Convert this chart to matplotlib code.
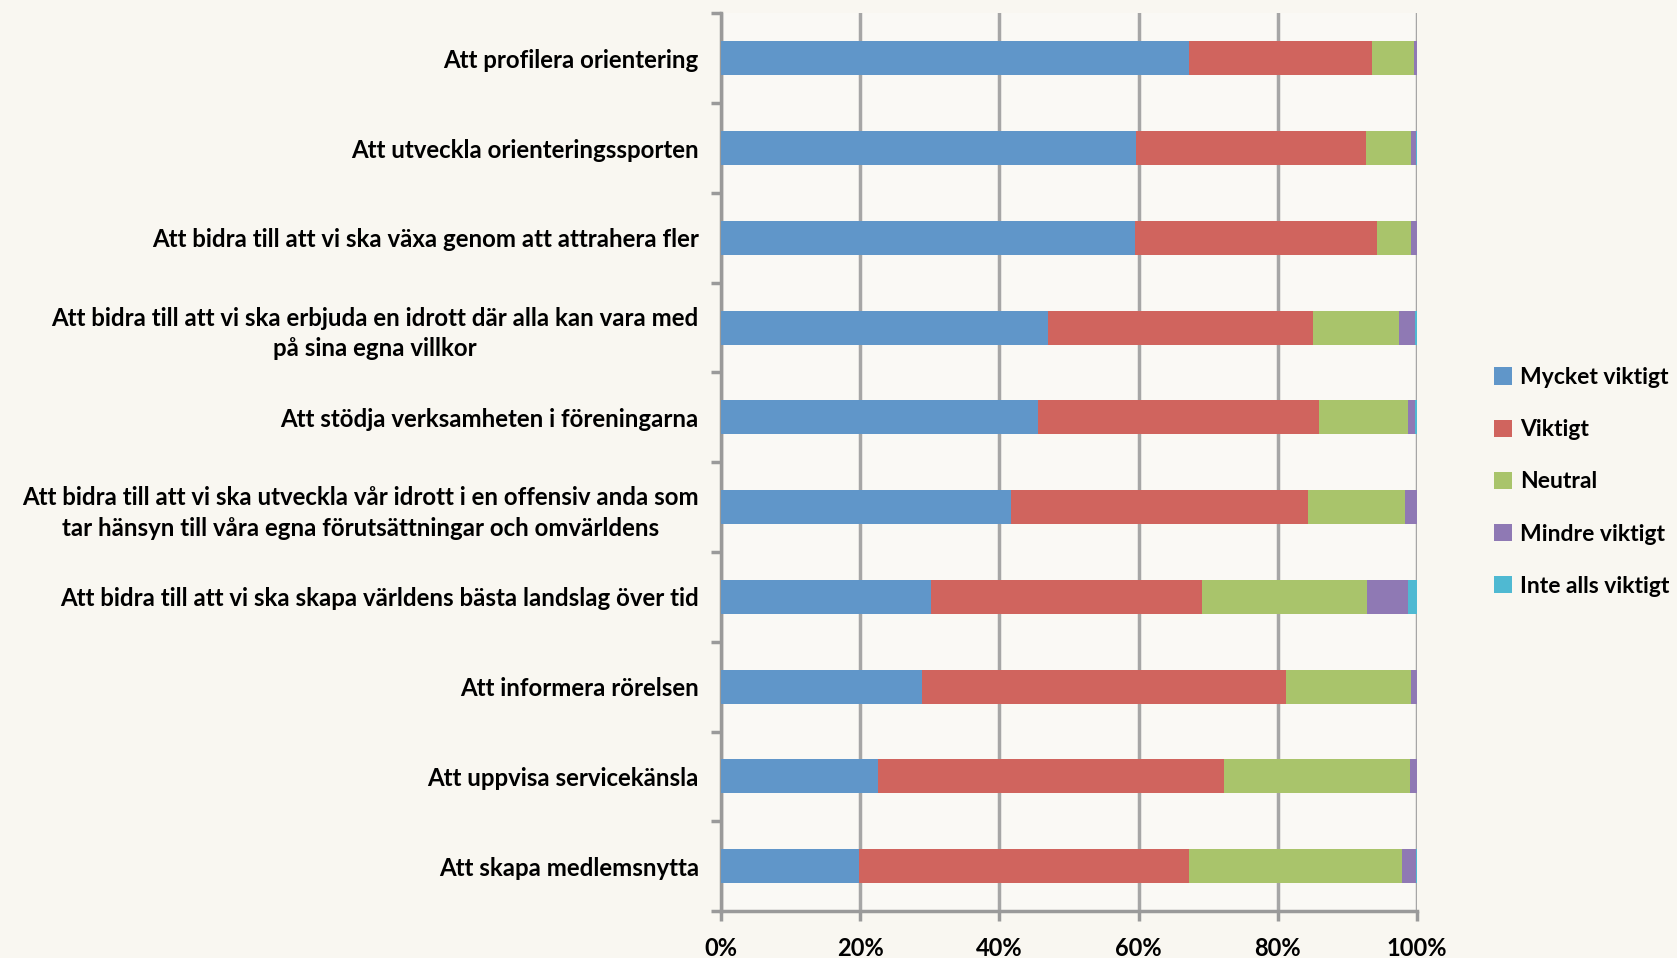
import matplotlib
matplotlib.use('Agg')
import matplotlib.pyplot as plt
from matplotlib.ticker import MultipleLocator, FixedLocator, PercentFormatter
import numpy as np

categories = [
    "Att profilera orientering",
    "Att utveckla orienteringssporten",
    "Att bidra till att vi ska växa genom att attrahera fler",
    "Att bidra till att vi ska erbjuda en idrott där alla kan vara med\npå sina egna villkor",
    "Att stödja verksamheten i föreningarna",
    "Att bidra till att vi ska utveckla vår idrott i en offensiv anda som\ntar hänsyn till våra egna förutsättningar och omvärldens",
    "Att bidra till att vi ska skapa världens bästa landslag över tid",
    "Att informera rörelsen",
    "Att uppvisa servicekänsla",
    "Att skapa medlemsnytta",
]

mycket_viktigt = [67.2, 59.6, 59.4, 47.0, 45.5, 41.7, 30.1, 28.8, 22.5, 19.8]
viktigt = [26.3, 33.1, 34.8, 38.0, 40.4, 42.6, 39.0, 52.4, 49.8, 47.5]
neutral = [6.0, 6.4, 4.9, 12.4, 12.8, 14.0, 23.7, 17.9, 26.7, 30.5]
mindre_viktigt = [0.5, 0.7, 0.9, 2.3, 1.0, 1.7, 5.9, 0.9, 1.0, 2.0]
inte_alls_viktigt = [0.0, 0.2, 0.0, 0.3, 0.3, 0.0, 1.3, 0.0, 0.0, 0.2]

series = [
    ("Mycket viktigt", mycket_viktigt, "#6096c9"),
    ("Viktigt", viktigt, "#d0645e"),
    ("Neutral", neutral, "#a9c46b"),
    ("Mindre viktigt", mindre_viktigt, "#8f79b4"),
    ("Inte alls viktigt", inte_alls_viktigt, "#4fb9d2"),
]

plt.rcParams['font.family'] = ['Lato', 'DejaVu Sans']
plt.rcParams['font.weight'] = 'bold'

bg = '#f9f7f1'
fig = plt.figure(figsize=(16.77, 9.58), dpi=100, facecolor=bg)
ax = fig.add_axes([0.430, 0.049, 0.415, 0.937])
ax.set_facecolor('#faf9f5')

y = np.arange(len(categories))
left = np.zeros(len(categories))
for name, vals, color in series:
    vals = np.array(vals)
    ax.barh(y, vals, left=left, height=0.38, color=color, label=name, zorder=3)
    left += vals

ax.set_xlim(0, 100)
ax.set_ylim(len(categories) - 0.5, -0.5)
ax.xaxis.set_major_locator(MultipleLocator(20))
ax.xaxis.set_major_formatter(PercentFormatter(decimals=0))
ax.set_yticks(y)
ax.set_yticklabels(categories, fontsize=17.3, fontweight='bold',
                   multialignment='center', linespacing=1.4)
ax.yaxis.set_minor_locator(FixedLocator(np.arange(-0.5, len(categories), 1.0)))
ax.tick_params(axis='y', which='major', length=0, pad=16)
ax.tick_params(axis='y', which='minor', length=7, width=2.5, color='#9a9a9a')
ax.tick_params(axis='x', length=7, width=2.5, color='#9a9a9a', labelsize=17, pad=12)
for lab in ax.get_xticklabels():
    lab.set_fontweight('bold')

ax.grid(axis='x', color='#a6a6a6', linewidth=2.5, zorder=0)
for side in ('top', 'right'):
    ax.spines[side].set_visible(False)
for side in ('left', 'bottom'):
    ax.spines[side].set_color('#9a9a9a')
    ax.spines[side].set_linewidth(2.5)

leg = fig.legend(loc='center left', bbox_to_anchor=(0.891, 0.497), frameon=False,
                 borderaxespad=0, borderpad=0,
                 handlelength=0.78, handleheight=0.78, handletextpad=0.35,
                 labelspacing=1.36, prop={'weight': 'bold', 'size': 16.5})

fig.savefig('out.png', dpi=100, facecolor=bg)
